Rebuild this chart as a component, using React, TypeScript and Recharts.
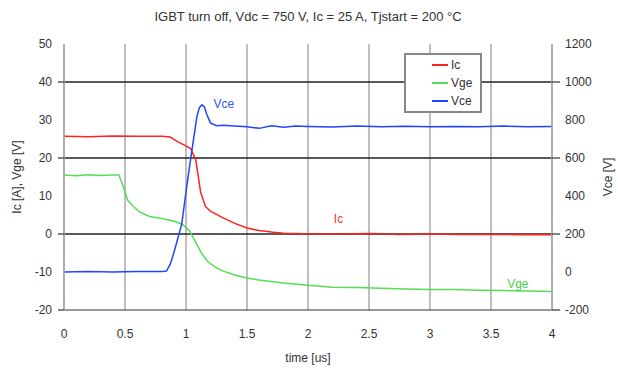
import { LineChart, Line, XAxis, YAxis, CartesianGrid, ReferenceLine, ReferenceDot } from 'recharts';

// time axis in us
const xTicks = [0, 0.5, 1, 1.5, 2, 2.5, 3, 3.5, 4];
const leftTicks = [-20, -10, 0, 10, 20, 30, 40, 50];
const rightTicks = [-200, 0, 200, 400, 600, 800, 1000, 1200];
const majorLeft = [40, 20, 0];

// Ic [A]
const icTime = [0, 0.2, 0.4, 0.6, 0.8, 0.87, 0.93, 1.0, 1.04, 1.08, 1.12, 1.16, 1.2, 1.3, 1.4, 1.5, 1.6, 1.7, 1.8, 1.9, 2.0, 2.25, 2.5, 2.75, 3.0, 3.25, 3.5, 3.75, 4.0];
const icValues = [25.7, 25.6, 25.8, 25.7, 25.7, 25.5, 24.3, 23.2, 22.4, 19.5, 11, 7.2, 6.0, 4.3, 2.8, 1.6, 0.9, 0.5, 0.2, 0.1, 0.0, 0.0, 0.1, -0.1, 0.0, -0.1, -0.1, -0.2, -0.2];

// Vge [V]
const vgeTime = [0, 0.1, 0.2, 0.3, 0.4, 0.45, 0.48, 0.52, 0.56, 0.62, 0.7, 0.8, 0.9, 0.97, 1.03, 1.08, 1.13, 1.18, 1.24, 1.3, 1.4, 1.5, 1.6, 1.8, 2.0, 2.2, 2.4, 2.6, 2.8, 3.0, 3.2, 3.4, 3.6, 3.8, 4.0];
const vgeValues = [15.5, 15.3, 15.6, 15.4, 15.5, 15.5, 13, 9, 7.5, 5.8, 4.6, 4.1, 3.4, 2.5, 0.8, -2.2, -5.2, -7.3, -8.7, -9.7, -10.8, -11.6, -12.1, -12.9, -13.5, -14.0, -14.1, -14.3, -14.5, -14.6, -14.6, -14.8, -14.9, -15.0, -15.1];

// Vce [V]
const vceTime = [0, 0.2, 0.4, 0.6, 0.8, 0.84, 0.87, 0.9, 0.93, 0.965, 1.0, 1.03, 1.06, 1.09, 1.11, 1.13, 1.15, 1.17, 1.2, 1.25, 1.3, 1.4, 1.5, 1.6, 1.7, 1.8, 1.9, 2.0, 2.2, 2.4, 2.6, 2.8, 3.0, 3.2, 3.4, 3.6, 3.8, 4.0];
const vceValues = [0, 2, 0, 3, 2, 5, 40, 100, 170, 252, 420, 560, 690, 820, 865, 880, 870, 830, 785, 770, 772, 768, 765, 756, 770, 762, 768, 766, 763, 769, 765, 767, 764, 766, 765, 768, 764, 766];

const series = [
  { name: 'Ic', color: '#ff2222', axis: 'left', data: icTime.map((t, i) => ({ t, v: icValues[i] })) },
  { name: 'Vge', color: '#55dd55', axis: 'left', data: vgeTime.map((t, i) => ({ t, v: vgeValues[i] })) },
  { name: 'Vce', color: '#2244ff', axis: 'right', data: vceTime.map((t, i) => ({ t, v: vceValues[i] })) },
];

const font = '"Liberation Sans", Arial, sans-serif';
const textColor = '#333';

const LeftTick = (props: any) => {
  const { x, y, payload } = props;
  const major = [40, 20, 0, -20].includes(payload.value);
  return (
    <g>
      {major && <line x1={x - 6} x2={x} y1={y} y2={y} stroke="#333" strokeWidth={1.2} />}
      <text x={x - 12} y={y + 4} textAnchor="end" fill={textColor} fontSize={12} fontFamily={font}>
        {payload.value}
      </text>
    </g>
  );
};

const RightTick = (props: any) => {
  const { x, y, payload } = props;
  const major = [1000, 600, 200, -200].includes(payload.value);
  return (
    <g>
      {major && <line x1={x} x2={x + 8} y1={y} y2={y} stroke="#333" strokeWidth={1.2} />}
      <text x={x + 13} y={y + 4} textAnchor="start" fill={textColor} fontSize={12} fontFamily={font}>
        {payload.value}
      </text>
    </g>
  );
};

const BottomTick = (props: any) => {
  const { x, y, payload } = props;
  return (
    <text x={x} y={y + 28} textAnchor="middle" fill={textColor} fontSize={12} fontFamily={font}>
      {payload.value}
    </text>
  );
};

export default function App() {
  return (
    <div style={{ position: 'absolute', left: 0, top: 0, width: 618, height: 368, background: '#fff', fontFamily: font }}>
      <div style={{ position: 'absolute', top: 9, left: 0, width: 616, textAlign: 'center', fontSize: 13, lineHeight: '16px', color: textColor }}>
        IGBT turn off, Vdc = 750 V, Ic = 25 A, Tjstart = 200 °C
      </div>
      <LineChart width={618} height={368} margin={{ top: 44, right: 0, bottom: 0, left: 0 }}>
        <CartesianGrid horizontal={false} stroke="#aaa" strokeWidth={1.5} xAxisId="x" yAxisId="left" />
        <XAxis
          xAxisId="x"
          dataKey="t"
          type="number"
          domain={[0, 4]}
          ticks={xTicks}
          height={58}
          tickLine={false}
          tickSize={0}
          tickMargin={0}
          axisLine={{ stroke: '#333', strokeWidth: 1.2 }}
          tick={<BottomTick />}
          label={{ value: 'time [us]', position: 'insideBottom', offset: 6, fill: textColor, fontSize: 12, fontFamily: font }}
        />
        <YAxis
          yAxisId="left"
          orientation="left"
          domain={[-20, 50]}
          ticks={leftTicks}
          width={64}
          tickLine={false}
          tickSize={0}
          tickMargin={0}
          axisLine={{ stroke: '#aaa', strokeWidth: 1.5 }}
          tick={<LeftTick />}
          label={{ value: 'Ic [A], Vge [V]', angle: -90, position: 'center', dx: -15, fill: textColor, fontSize: 12, fontFamily: font }}
        />
        <YAxis
          yAxisId="right"
          orientation="right"
          domain={[-200, 1200]}
          ticks={rightTicks}
          width={66}
          tickLine={false}
          tickSize={0}
          tickMargin={0}
          axisLine={{ stroke: '#aaa', strokeWidth: 1.5 }}
          tick={<RightTick />}
          label={{ value: 'Vce [V]', angle: -90, position: 'center', dx: 23, fill: textColor, fontSize: 12, fontFamily: font }}
        />
        {majorLeft.map((v) => (
          <ReferenceLine key={v} xAxisId="x" yAxisId="left" y={v} stroke="#222" strokeWidth={1.3} />
        ))}
        {series.map((s) => (
          <Line
            key={s.name}
            xAxisId="x"
            yAxisId={s.axis}
            data={s.data}
            dataKey="v"
            name={s.name}
            type="linear"
            stroke={s.color}
            strokeWidth={1.5}
            dot={false}
            isAnimationActive={false}
          />
        ))}
        <ReferenceDot xAxisId="x" yAxisId="left" x={1.31} y={34.4} r={0} label={{ value: 'Vce', position: 'center', fill: '#3355ee', fontSize: 12, fontFamily: font }} />
        <ReferenceDot xAxisId="x" yAxisId="left" x={2.25} y={4.0} r={0} label={{ value: 'Ic', position: 'center', fill: '#ff3333', fontSize: 12, fontFamily: font }} />
        <ReferenceDot xAxisId="x" yAxisId="left" x={3.72} y={-13.2} r={0} label={{ value: 'Vge', position: 'center', fill: '#44cc44', fontSize: 12, fontFamily: font }} />
      </LineChart>
      <div style={{ position: 'absolute', left: 404, top: 53, width: 74, height: 55, border: '2px solid #888', background: '#fff', paddingTop: 1, boxSizing: 'content-box' }}>
        {series.map((s) => (
          <div key={s.name} style={{ display: 'flex', alignItems: 'center', height: 18, fontSize: 12, color: textColor }}>
            <span style={{ display: 'inline-block', width: 16, height: 2, background: s.color, marginLeft: 26, marginRight: 3 }} />
            {s.name}
          </div>
        ))}
      </div>
    </div>
  );
}
